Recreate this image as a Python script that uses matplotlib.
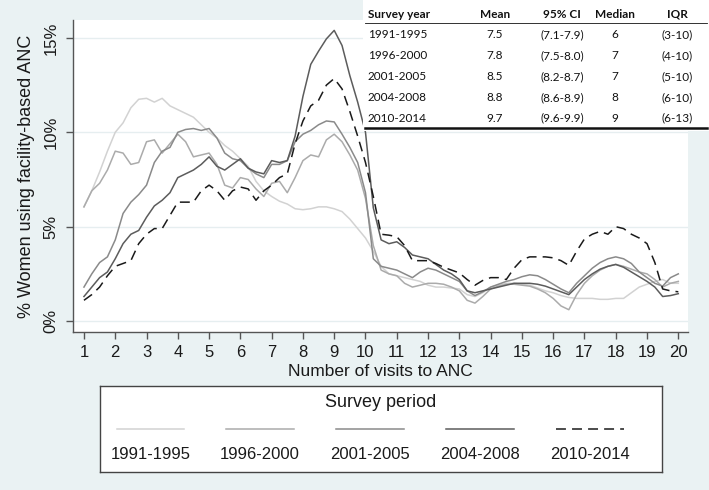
import matplotlib
matplotlib.use("Agg")
import matplotlib.pyplot as plt
from matplotlib.patches import Rectangle
from matplotlib.lines import Line2D
from matplotlib.ticker import FuncFormatter

# number of ANC visits (x grid shared by all curves)
visits = [1 + 0.25 * i for i in range(77)]

# % women using facility-based ANC, one list per survey period
p1991 = [6.05, 6.9, 7.9, 9.0, 10.0, 10.5, 11.3, 11.75, 11.8, 11.6, 11.8, 11.4, 11.2, 11.0, 10.8, 10.4,
         10.0, 9.7, 9.3, 9.0, 8.6, 8.2, 7.4, 6.9, 6.6, 6.35, 6.2, 5.95, 5.9, 5.95, 6.05, 6.05,
         5.95, 5.8, 5.4, 4.9, 4.4, 3.7, 2.9, 2.5, 2.4, 2.3, 2.2, 2.1, 1.9, 1.8, 1.8, 1.75,
         1.7, 1.4, 1.3, 1.5, 1.8, 1.9, 2.0, 2.0, 1.95, 1.9, 1.75, 1.6, 1.5, 1.35, 1.25, 1.2,
         1.2, 1.2, 1.15, 1.15, 1.2, 1.2, 1.5, 1.8, 1.95, 2.1, 2.2, 2.0, 2.0]
p1996 = [6.05, 6.9, 7.3, 8.0, 9.0, 8.9, 8.3, 8.4, 9.5, 9.6, 8.9, 9.4, 9.9, 9.5, 8.7, 8.8,
         8.9, 8.3, 7.2, 7.05, 7.6, 7.5, 7.0, 6.6, 7.3, 7.4, 6.8, 7.6, 8.5, 8.8, 8.7, 9.6,
         9.9, 9.5, 8.8, 8.0, 6.5, 4.0, 2.7, 2.5, 2.4, 2.0, 1.8, 1.9, 2.0, 2.0, 1.95, 1.8,
         1.6, 1.1, 0.95, 1.3, 1.7, 1.85, 1.95, 1.95, 1.9, 1.85, 1.7, 1.5, 1.2, 0.8, 0.6, 1.4,
         2.0, 2.4, 2.7, 2.9, 3.0, 2.9, 2.75, 2.6, 2.5, 2.2, 1.8, 2.0, 2.1]
p2001 = [1.8, 2.5, 3.1, 3.4, 4.3, 5.7, 6.3, 6.7, 7.2, 8.4, 9.0, 9.2, 10.0, 10.15, 10.2, 10.1,
         10.2, 9.7, 8.9, 8.6, 8.5, 8.1, 7.8, 7.6, 8.3, 8.3, 8.5, 9.5, 9.9, 10.1, 10.4, 10.6,
         10.55, 9.9, 9.2, 8.4, 6.8, 3.3, 2.9, 2.8, 2.7, 2.5, 2.3, 2.6, 2.8, 2.7, 2.5, 2.3,
         2.1, 1.6, 1.35, 1.55, 1.8, 1.95, 2.1, 2.2, 2.35, 2.45, 2.4, 2.2, 1.95, 1.7, 1.5, 2.0,
         2.4, 2.8, 3.1, 3.3, 3.4, 3.3, 3.05, 2.6, 2.3, 2.0, 1.85, 2.3, 2.5]
p2004 = [1.3, 1.8, 2.3, 2.6, 3.3, 4.1, 4.6, 4.8, 5.5, 6.1, 6.4, 6.8, 7.6, 7.8, 8.0, 8.3,
         8.7, 8.2, 8.0, 8.3, 8.6, 8.1, 7.9, 7.8, 8.5, 8.4, 8.5, 9.8, 11.9, 13.6, 14.3, 14.95,
         15.4, 14.6, 13.0, 11.6, 10.0, 6.0, 4.3, 4.1, 4.2, 3.9, 3.5, 3.4, 3.3, 3.0, 2.7, 2.5,
         2.2, 1.6, 1.5, 1.6, 1.7, 1.8, 1.9, 2.0, 2.0, 2.0, 1.95, 1.85, 1.7, 1.55, 1.4, 1.8,
         2.2, 2.5, 2.75, 2.9, 3.0, 2.85, 2.6, 2.35, 2.1, 1.8, 1.3, 1.35, 1.45]
p2010 = [1.1, 1.4, 1.8, 2.4, 2.9, 3.05, 3.2, 4.1, 4.6, 4.9, 4.9, 5.6, 6.3, 6.3, 6.3, 6.9,
         7.2, 6.9, 6.4, 6.9, 7.1, 7.0, 6.4, 6.9, 7.2, 7.6, 7.8, 9.4, 10.6, 11.4, 11.7, 12.5,
         12.85, 12.3, 11.1, 9.8, 8.4, 6.6, 4.6, 4.55, 4.47, 4.0, 3.2, 3.2, 3.2, 3.05, 2.85, 2.7,
         2.55, 2.2, 1.9, 2.15, 2.3, 2.3, 2.2, 2.8, 3.25, 3.4, 3.4, 3.4, 3.35, 3.2, 2.95, 3.7,
         4.35, 4.6, 4.75, 4.6, 5.0, 4.9, 4.6, 4.4, 4.1, 3.1, 1.7, 1.6, 1.55]

periods = ["1991-1995", "1996-2000", "2001-2005", "2004-2008", "2010-2014"]
series = [p1991, p1996, p2001, p2004, p2010]
colors = ["#d2d2d2", "#ababab", "#8a8a8a", "#5c5c5c", "#1a1a1a"]
styles = ["-", "-", "-", "-", (0, (6.5, 4))]

# summary table
means = ["7.5", "7.8", "8.5", "8.8", "9.7"]
cis = ["(7.1-7.9)", "(7.5-8.0)", "(8.2-8.7)", "(8.6-8.9)", "(9.6-9.9)"]
medians = ["6", "7", "7", "8", "9"]
iqrs = ["(3-10)", "(4-10)", "(5-10)", "(6-10)", "(6-13)"]

W, H = 709, 490
bg = "#eaf2f3"
plt.rcParams["font.family"] = ["Liberation Sans", "DejaVu Sans"]

fig = plt.figure(figsize=(W / 100, H / 100), dpi=100, facecolor=bg)


def fx(px):
    return px / W


def fy(py):
    return 1 - py / H


ax = fig.add_axes([fx(72.7), fy(332), fx(688) - fx(72.7), fy(20) - fy(332)])
ax.set_facecolor("white")

for vals, col, ls in zip(series, colors, styles):
    ax.plot(visits, vals, color=col, linestyle=ls, linewidth=1.1)

ax.set_xlim(0.64, 20.31)
ax.set_ylim(-0.58, 15.95)
ax.set_xticks(range(1, 21))
ax.set_yticks([0, 5, 10, 15])
ax.yaxis.set_major_formatter(FuncFormatter(lambda v, p: "%d%%" % v))
ax.grid(axis="y", color="#e6eef0", linewidth=1.0)
ax.set_axisbelow(True)
for s in ["top", "right"]:
    ax.spines[s].set_visible(False)
for s in ["left", "bottom"]:
    ax.spines[s].set_color("#555555")
    ax.spines[s].set_linewidth(1.0)
ax.tick_params(axis="both", direction="out", length=5, width=1, color="#555555",
               labelsize=12, labelcolor="#1a1a1a")
ax.tick_params(axis="y", pad=5)
ax.tick_params(axis="x", pad=4)
for lab in ax.get_yticklabels():
    lab.set_rotation(90)
    lab.set_va("center")
ax.set_xlabel("Number of visits to ANC", fontsize=12.5, color="#1a1a1a", labelpad=3)
ax.set_ylabel("% Women using facility-based ANC", fontsize=13, color="#1a1a1a", labelpad=6)

# legend box with labels under the keys
lg = fig.add_axes([fx(100), fy(472), fx(662) - fx(100), fy(386) - fy(472)])
lg.set_facecolor("white")
lg.set_xlim(0, 1)
lg.set_ylim(0, 1)
lg.set_xticks([])
lg.set_yticks([])
for s in lg.spines.values():
    s.set_color("#444444")
    s.set_linewidth(1.0)
lg.text(0.5, 0.81, "Survey period", ha="center", va="center", fontsize=13, color="#1a1a1a")
for i, (name, col, ls) in enumerate(zip(periods, colors, styles)):
    cx = 0.0895 + i * 0.1955
    lg.add_line(Line2D([cx - 0.06, cx + 0.06], [0.5, 0.5], color=col, linestyle=ls, linewidth=1.1))
    lg.text(cx, 0.2, name, ha="center", va="center", fontsize=12, color="#1a1a1a")

# summary table on white panel, top right
fig.add_artist(Rectangle((fx(363), fy(131)), 1 - fx(363), fy(0) - fy(131),
                         transform=fig.transFigure, facecolor="white", edgecolor="none", zorder=5))
tfont = ["Lato", "DejaVu Sans"]
cols_x = [368, 495, 562, 615, 677]
headers = ["Survey year", "Mean", "95% CI", "Median", "IQR"]
for j, (hx, h) in enumerate(zip(cols_x, headers)):
    fig.text(fx(hx), fy(14), h, ha="left" if j == 0 else "center", va="center",
             fontsize=8.5, fontweight="bold", family=tfont, color="#111111", zorder=6)
fig.add_artist(Line2D([fx(365), fx(707)], [fy(23), fy(23)], transform=fig.transFigure,
                      color="#111111", linewidth=0.6, zorder=6))
for i in range(len(periods)):
    ry = 35 + i * 20.8
    row = [periods[i], means[i], cis[i], medians[i], iqrs[i]]
    for j, (hx, t) in enumerate(zip(cols_x, row)):
        fig.text(fx(hx), fy(ry), t, ha="left" if j == 0 else "center", va="center",
                 fontsize=8.5, family=tfont, color="#111111", zorder=6)
fig.add_artist(Line2D([fx(365), fx(707)], [fy(128), fy(128)], transform=fig.transFigure,
                      color="#111111", linewidth=1.8, zorder=6))

fig.savefig("out.png", dpi=100, facecolor=bg)
